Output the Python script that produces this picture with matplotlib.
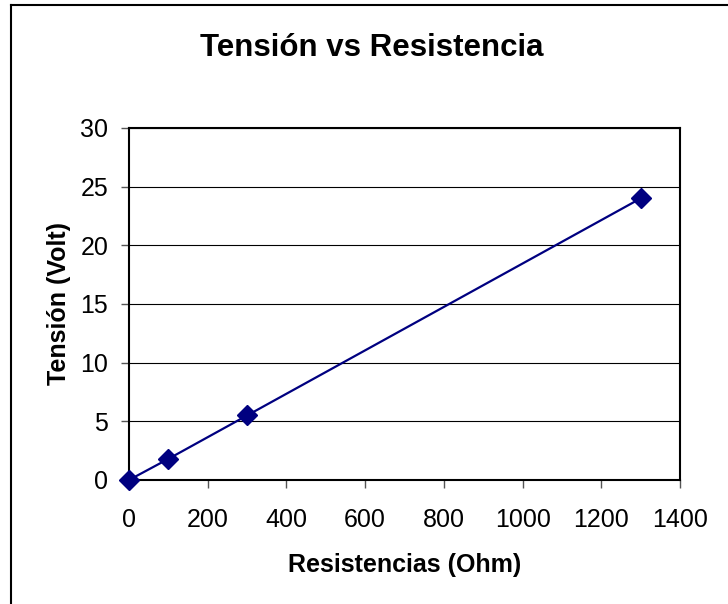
import matplotlib.pyplot as plt
from matplotlib.lines import Line2D

plt.rcParams['font.family'] = ['Liberation Sans', 'DejaVu Sans']

resistencia = [0, 100, 300, 1300]
tension = [0, 1.8, 5.5, 24]

fig = plt.figure(figsize=(7.28, 6.04), dpi=100)
# marco del grafico (solo se ven el borde superior e izquierdo)
fig.add_artist(Line2D([0.0151, 1.0], [0.9917, 0.9917], transform=fig.transFigure,
                      color='black', linewidth=1.5))
fig.add_artist(Line2D([0.0151, 0.0151], [0.0, 0.9917], transform=fig.transFigure,
                      color='black', linewidth=1.5))

ax = fig.add_axes([0.1772, 0.2053, 0.7569, 0.5828])

ax.plot(resistencia, tension, color='#000080', linewidth=1.6,
        marker='D', markersize=10, markerfacecolor='#000080', markeredgecolor='#000080',
        clip_on=False, zorder=3)

ax.set_xlim(0, 1400)
ax.set_ylim(0, 30)
ax.set_xticks(range(0, 1401, 200))
ax.set_yticks(range(0, 31, 5))
ax.yaxis.grid(True, color='black', linewidth=0.8)
ax.set_axisbelow(True)
for s in ax.spines.values():
    s.set_linewidth(1.5)
ax.tick_params(labelsize=18, length=6, width=1, direction='out', color='#555555')
ax.tick_params(axis='x', pad=14)
ax.tick_params(axis='y', pad=9)

ax.set_xlabel('Resistencias (Ohm)', fontsize=18, fontweight='bold', va='center')
ax.set_ylabel('Tensión (Volt)', fontsize=18, fontweight='bold', va='center')
ax.xaxis.set_label_coords(0.5, -0.2415)
ax.yaxis.set_label_coords(-0.127, 0.5)
fig.text(372 / 728, 1 - 48 / 604, 'Tensión vs Resistencia', ha='center', va='center',
         fontsize=22.5, fontweight='bold')

fig.savefig('out.png', dpi=100)
